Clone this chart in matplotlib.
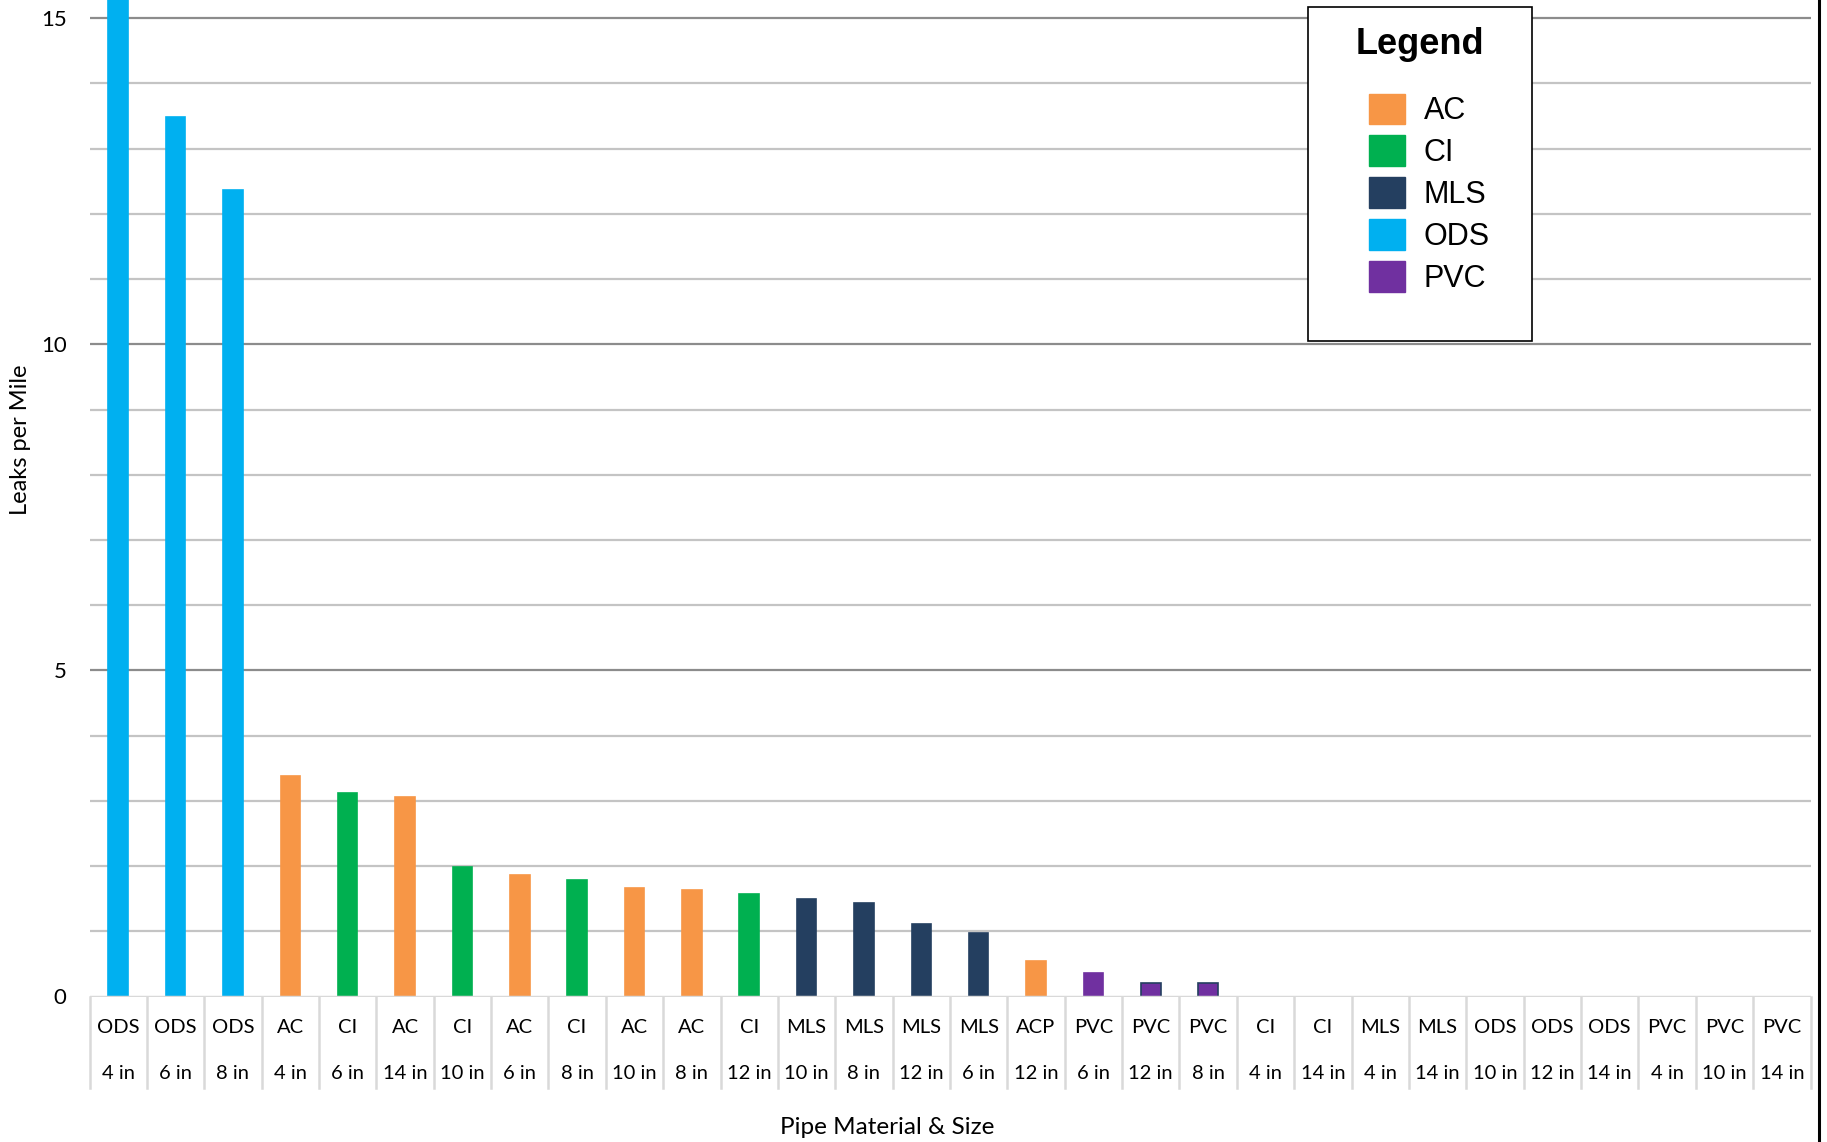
import matplotlib
matplotlib.use("Agg")
import matplotlib.pyplot as plt
from matplotlib.patches import Patch, Rectangle
from matplotlib.lines import Line2D

# ---- data ----
materials = ["ODS", "ODS", "ODS", "AC", "CI", "AC", "CI", "AC", "CI", "AC", "AC", "CI",
             "MLS", "MLS", "MLS", "MLS", "ACP", "PVC", "PVC", "PVC", "CI", "CI", "MLS", "MLS",
             "ODS", "ODS", "ODS", "PVC", "PVC", "PVC"]
sizes = ["4 in", "6 in", "8 in", "4 in", "6 in", "14 in", "10 in", "6 in", "8 in", "10 in", "8 in",
         "12 in", "10 in", "8 in", "12 in", "6 in", "12 in", "6 in", "12 in", "8 in", "4 in", "14 in",
         "4 in", "14 in", "10 in", "12 in", "14 in", "4 in", "10 in", "14 in"]
leaks = [16.5, 13.49, 12.37, 3.38, 3.12, 3.06, 1.99, 1.86, 1.79, 1.66, 1.64, 1.57,
         1.49, 1.44, 1.11, 0.97, 0.54, 0.36, 0.21, 0.20, 0, 0, 0, 0, 0, 0, 0, 0, 0, 0]
legend_labels = ["AC", "CI", "MLS", "ODS", "PVC"]
yticks = [0, 5, 10, 15]

colors = {"AC": "#F79646", "ACP": "#F79646", "CI": "#00B050", "MLS": "#243F60",
          "ODS": "#00B0F0", "PVC": "#7030A0"}

W, H = 1827, 1142
fig = plt.figure(figsize=(W / 100, H / 100), dpi=100)
left_px, right_px, zero_px = 89.5, 1810.5, 996.5
ax = fig.add_axes([left_px / W, 1 - zero_px / H, (right_px - left_px) / W, zero_px / H])

cat_font = ["Lato", "DejaVu Sans"]
leg_font = ["Liberation Sans", "DejaVu Sans"]

n = len(leaks)
xs = list(range(n))
bar_colors = [colors[m] for m in materials]
edge_colors = [colors["MLS"] if (m == "PVC" and 0 < v < 0.3) else c
               for m, v, c in zip(materials, leaks, bar_colors)]
ax.bar(xs, leaks, width=0.34, color=bar_colors, edgecolor=edge_colors, linewidth=1.2, zorder=3)

ax.set_xlim(-0.5, n - 0.5)
ax.set_ylim(0, 15.28)

# gridlines
for v in range(1, 16):
    major = v % 5 == 0
    ax.axhline(v, color="#8c8c8c" if major else "#c4c4c4", lw=1.6, zorder=1)
ax.axhline(0, color="#d9d9d9", lw=2.5, zorder=4)

for s in ax.spines.values():
    s.set_visible(False)
ax.set_xticks([])
ax.set_yticks(yticks)
ax.set_yticklabels([str(t) for t in yticks], fontsize=16, family=cat_font)
ax.tick_params(axis="y", length=0, pad=16.5)

# multi-level category labels with dividers
trans = ax.get_xaxis_transform()
for i in range(n + 1):
    ax.plot([i - 0.5, i - 0.5], [0, -0.092], transform=trans, color="#d9d9d9", lw=1.8,
            clip_on=False, zorder=2)
for i, (m, s) in enumerate(zip(materials, sizes)):
    ax.text(i, -0.0316, m, transform=trans, ha="center", va="center", fontsize=14.5,
            family=cat_font)
    ax.text(i, -0.0768, s, transform=trans, ha="center", va="center", fontsize=14.5,
            family=cat_font)

# axis titles
fig.text(887 / W, 1 - 1127 / H, "Pipe Material & Size", ha="center", va="center",
         fontsize=17.5, family=cat_font)
fig.text(21 / W, 1 - 440 / H, "Leaks per Mile", ha="center", va="center", rotation=90,
         fontsize=17, family=cat_font)

# right border line
fig.add_artist(Line2D([1818.5 / W, 1818.5 / W], [0, 1], color="black", lw=2.2))

# legend box
fig.add_artist(Rectangle((1308 / W, 1 - 341 / H), 224 / W, 334 / H, transform=fig.transFigure,
                         facecolor="white", edgecolor="black", lw=1.2, zorder=5))
fig.text(1420 / W, 1 - 54 / H, "Legend", ha="center", va="baseline", fontsize=26,
         weight="bold", family=leg_font, zorder=7)
handles = [Patch(facecolor=colors[l], edgecolor=colors[l]) for l in legend_labels]
leg = fig.legend(handles, legend_labels, loc="upper left",
                 bbox_to_anchor=(1341 / W, 1 - 66 / H), frameon=False,
                 handlelength=1.2, handleheight=1.15,
                 labelspacing=0.31, handletextpad=0.6,
                 prop={"family": leg_font, "size": 22})
leg.set_zorder(6)

fig.savefig("out.png", dpi=100, facecolor="white")
